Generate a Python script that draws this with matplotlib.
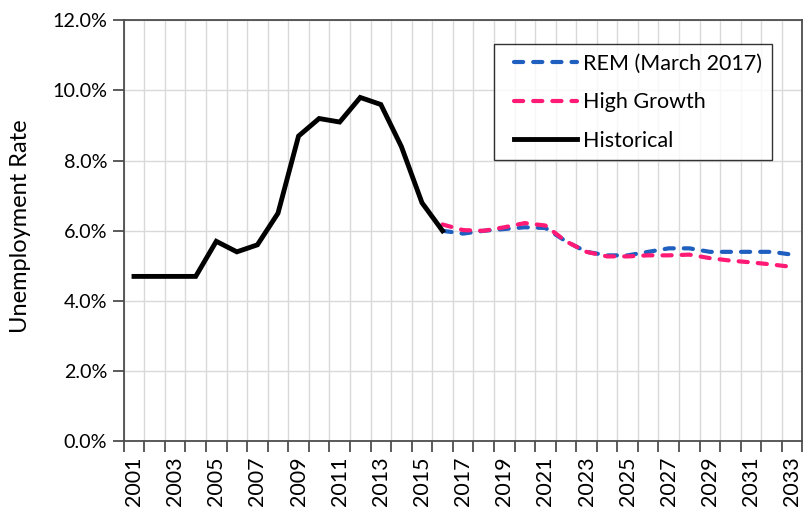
import matplotlib
matplotlib.use("Agg")
import matplotlib.pyplot as plt
from matplotlib.lines import Line2D
from matplotlib.legend_handler import HandlerLine2D
from matplotlib.ticker import FixedLocator, FuncFormatter

# Unemployment rate (%) by year
years = list(range(2001, 2034))
hist_years = list(range(2001, 2017))
historical = [4.7, 4.7, 4.7, 4.7, 5.7, 5.4, 5.6, 6.5, 8.7, 9.2, 9.1, 9.8, 9.6, 8.4, 6.8, 6.0]
fc_years = list(range(2016, 2034))
rem = [6.0, 5.92, 6.0, 6.05, 6.1, 6.08, 5.7, 5.4, 5.3, 5.3, 5.4, 5.5, 5.5, 5.4, 5.4, 5.4, 5.4, 5.32]
high_growth = [6.18, 6.02, 6.0, 6.1, 6.22, 6.15, 5.7, 5.4, 5.27, 5.27, 5.3, 5.3, 5.32, 5.22, 5.15, 5.1, 5.04, 4.97]
label_years = years[::2]

plt.rcParams['font.family'] = ['Lato', 'DejaVu Sans']

fig = plt.figure(figsize=(8.07, 5.11), dpi=100)
ax = fig.add_axes([0.1533, 0.1364, 0.8411, 0.8239])

first = years[0]
def pos(ys):
    return [y - first for y in ys]

blue = '#1F5FBF'
pink = '#FF1A75'
dash = (0, (2.2, 2.4))
ax.plot(pos(fc_years), rem, color=blue, lw=3.0, linestyle=dash,
        dash_capstyle='round', label='REM (March 2017)', zorder=3)
ax.plot(pos(fc_years), high_growth, color=pink, lw=3.0, linestyle=dash,
        dash_capstyle='round', label='High Growth', zorder=4)
ax.plot(pos(hist_years), historical, color='black', lw=3.5,
        solid_joinstyle='miter', label='Historical', zorder=5)

ax.set_xlim(-0.5, len(years) - 0.5)
ax.set_ylim(0, 12)

# Category boundaries carry the ticks and vertical grid
bounds = [i - 0.5 for i in range(len(years) + 1)]
ax.xaxis.set_major_locator(FixedLocator(bounds))
ax.xaxis.set_major_formatter(FuncFormatter(lambda v, p: ''))
ax.xaxis.set_minor_locator(FixedLocator(pos(label_years)))
ax.xaxis.set_minor_formatter(FuncFormatter(lambda v, p: str(int(round(v)) + first)))
ax.tick_params(axis='x', which='major', length=8, width=1.2, color='#404040', direction='out')
ax.tick_params(axis='x', which='minor', length=0, pad=11, labelsize=15.4,
               labelrotation=90, labelcolor='#000000')

ax.set_yticks(range(0, 13, 2))
ax.yaxis.set_major_formatter(FuncFormatter(lambda v, p: f'{v:.1f}%'))
ax.tick_params(axis='y', length=8, width=1.2, color='#404040', direction='out',
               labelsize=14.2, pad=4)

ax.grid(True, which='major', color='#D9D9D9', lw=1.0)
ax.set_axisbelow(True)

for s in ax.spines.values():
    s.set_color('#4D4D4D')
    s.set_linewidth(1.3)

ax.set_ylabel('Unemployment Rate', fontsize=17)
ax.yaxis.set_label_coords(-0.137, 0.51)

leg = ax.legend(loc='upper left', bbox_to_anchor=(0.5455, 0.9437), frameon=True,
                fancybox=False, edgecolor='black', fontsize=15.5,
                handlelength=3.4, handletextpad=0.3, labelspacing=0.86,
                borderpad=0.45, borderaxespad=0,
                handler_map={Line2D: HandlerLine2D(xpad=0.5)})
leg.get_frame().set_linewidth(1.0)

fig.savefig('out.png', dpi=100)
